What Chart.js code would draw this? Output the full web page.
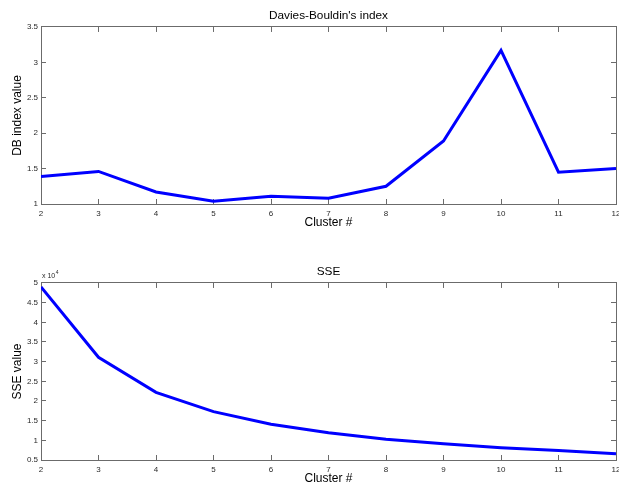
<!DOCTYPE html>
<html>
<head>
<meta charset="utf-8">
<script src="https://cdn.jsdelivr.net/npm/chart.js@4/dist/chart.umd.min.js"></script>
<style>
  body { margin: 0; background: #fff; width: 619px; height: 489px; overflow: hidden; position: relative; }
  canvas { position: absolute; left: 0; }
  #graficoDB { top: 0; }
  #graficoSSE { top: 256px; }
</style>
</head>
<body>
<canvas id="graficoDB" width="619" height="233"></canvas>
<canvas id="graficoSSE" width="619" height="233"></canvas>
<script>
// ── Dados ───────────────────────────────────────────────────────────────────

const clusters = [2, 3, 4, 5, 6, 7, 8, 9, 10, 11, 12]
const dbIndex = [1.39, 1.46, 1.17, 1.04, 1.11, 1.08, 1.25, 1.89, 3.17, 1.45, 1.50]
const sse = [49000, 31100, 22200, 17300, 14100, 11900, 10300, 9100, 8100, 7400, 6600]
const dbTicks = [1, 1.5, 2, 2.5, 3, 3.5]
const sseTicks = [5000, 10000, 15000, 20000, 25000, 30000, 35000, 40000, 45000, 50000]

// ── Estilo comum ────────────────────────────────────────────────────────────

const FONTE = "'Liberation Sans', Arial, sans-serif"
const COR_EIXO = '#6b6b6b'
const COR_TEXTO = '#2a2a2a'

// ticks para dentro, como no MATLAB (tickLength negativo)
const grade = {
  drawOnChartArea: false,
  drawTicks: true,
  tickLength: -5,
  color: COR_EIXO,
  lineWidth: 1,
}
const borda = { display: true, color: COR_EIXO, width: 1 }

// sem folga extra para os rótulos das pontas
const semFolga = (s) => {
  s.paddingLeft = 0
  s.paddingRight = 0
  s.paddingTop = 0
  s.paddingBottom = 0
}

// "x 10^4" acima do canto superior esquerdo
const expoente = {
  id: 'expoente',
  afterDraw(chart, args, opts) {
    if (!opts.texto) return
    const { ctx, chartArea } = chart
    ctx.save()
    ctx.fillStyle = COR_TEXTO
    ctx.textBaseline = 'alphabetic'
    ctx.font = `7px ${FONTE}`
    ctx.fillText(opts.texto, chartArea.left + 1, chartArea.top - 5)
    const w = ctx.measureText(opts.texto).width
    ctx.font = `5px ${FONTE}`
    ctx.fillText(opts.sobrescrito, chartArea.left + 1 + w + 0.5, chartArea.top - 9)
    ctx.restore()
  },
}

function criarGrafico(id, titulo, rotuloY, valores, ticksY, formatar, plugExp) {
  const pontos = clusters.map((c, i) => ({ x: c, y: valores[i] }))
  const yMin = ticksY[0]
  const yMax = ticksY[ticksY.length - 1]

  return new Chart(document.getElementById(id), {
    type: 'line',
    data: {
      datasets: [
        {
          data: pontos,
          borderColor: '#0000ff',
          borderWidth: 3,
          tension: 0,
          pointRadius: 0,
          fill: false,
          xAxisID: 'x',
          yAxisID: 'y',
        },
      ],
    },
    options: {
      responsive: false,
      animation: false,
      layout: { padding: 0 },
      plugins: {
        legend: { display: false },
        tooltip: { enabled: false },
        title: {
          display: true,
          fullSize: false, // centraliza sobre a área do gráfico
          text: titulo,
          color: '#000',
          font: { family: FONTE, size: 11.8, weight: 'normal' },
          padding: { top: 8.5, bottom: 4.3 },
        },
        expoente: plugExp,
      },
      scales: {
        x: {
          type: 'linear',
          position: 'bottom',
          min: clusters[0],
          max: clusters[clusters.length - 1],
          ticks: {
            stepSize: 1,
            color: COR_TEXTO,
            padding: 10,
            maxRotation: 0,
            font: { family: FONTE, size: 8 },
          },
          grid: grade,
          border: borda,
          title: {
            display: true,
            text: 'Cluster #',
            color: '#000',
            font: { family: FONTE, size: 12 },
            padding: { top: 0, bottom: 3 },
          },
          afterFit: (s) => {
            s.height = 29
            semFolga(s)
          },
        },
        x2: {
          type: 'linear',
          position: 'top',
          min: clusters[0],
          max: clusters[clusters.length - 1],
          ticks: { display: false, stepSize: 1 },
          grid: grade,
          border: borda,
          afterFit: (s) => {
            s.height = 0
            semFolga(s)
          },
        },
        y: {
          type: 'linear',
          position: 'left',
          min: yMin,
          max: yMax,
          afterBuildTicks: (s) => { s.ticks = ticksY.map((v) => ({ value: v })) },
          ticks: {
            color: COR_TEXTO,
            padding: 8,
            font: { family: FONTE, size: 8 },
            callback: formatar,
          },
          grid: grade,
          border: borda,
          title: {
            display: true,
            text: rotuloY,
            color: '#000',
            font: { family: FONTE, size: 12 },
            padding: { top: 10, bottom: 0 },
          },
          afterFit: (s) => {
            s.width = 41
            semFolga(s)
          },
        },
        y2: {
          type: 'linear',
          position: 'right',
          min: yMin,
          max: yMax,
          afterBuildTicks: (s) => { s.ticks = ticksY.map((v) => ({ value: v })) },
          ticks: { display: false },
          grid: grade,
          border: borda,
          afterFit: (s) => {
            s.width = 3
            semFolga(s)
          },
        },
      },
    },
    plugins: [expoente],
  })
}

// ── Gráficos ────────────────────────────────────────────────────────────────

criarGrafico(
  'graficoDB',
  "Davies-Bouldin's index",
  'DB index value',
  dbIndex,
  dbTicks,
  (v) => String(v),
  {},
)

criarGrafico(
  'graficoSSE',
  'SSE',
  'SSE value',
  sse,
  sseTicks,
  (v) => String(v / 10000),
  { texto: 'x 10', sobrescrito: '4' },
)
</script>
</body>
</html>
